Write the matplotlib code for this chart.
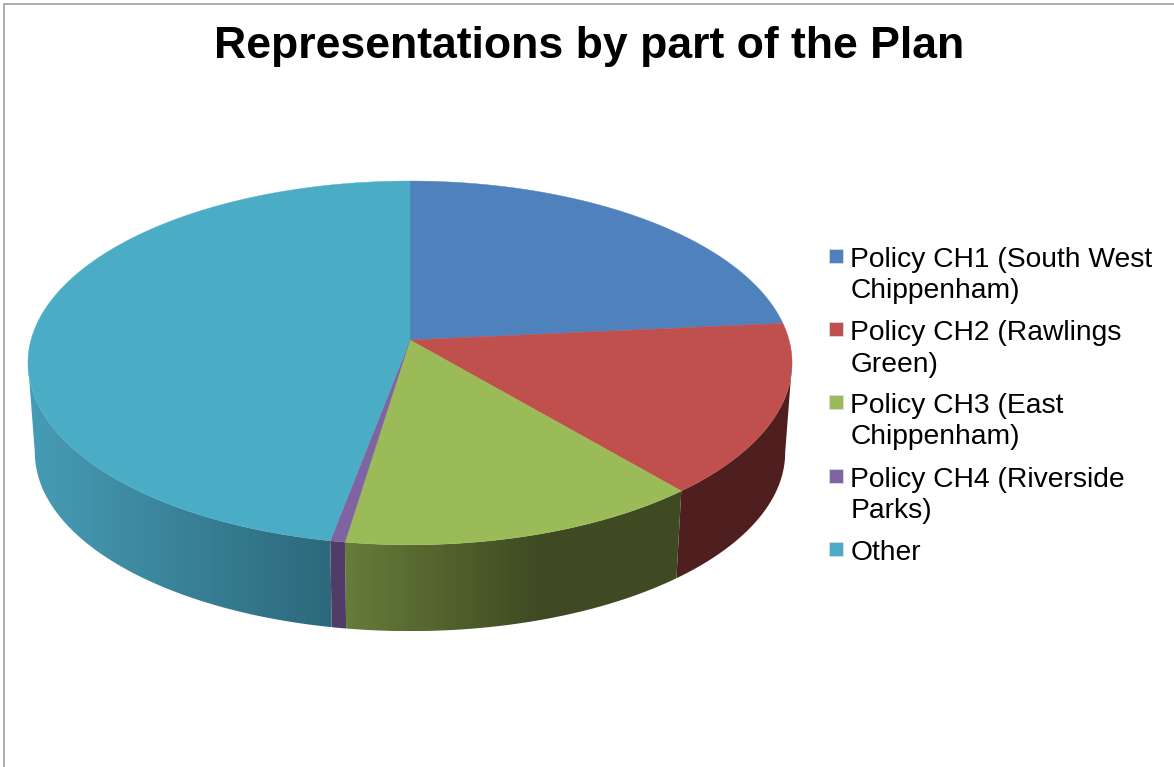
import matplotlib
matplotlib.use("Agg")
import matplotlib.pyplot as plt
import numpy as np
from matplotlib.colors import LinearSegmentedColormap
from matplotlib.patches import Polygon, Rectangle

plt.rcParams['font.family'] = ['Liberation Sans', 'DejaVu Sans']

title = "Representations by part of the Plan"
labels = ["Policy CH1 (South West\nChippenham)", "Policy CH2 (Rawlings\nGreen)",
          "Policy CH3 (East\nChippenham)", "Policy CH4 (Riverside\nParks)", "Other"]
shares = [23.5, 15.3, 13.6, 0.55, 47.05]
top_colors = ["#4f81bd", "#c0504d", "#9bbb59", "#8064a2", "#4bacc6"]
# left and right shade of the rim for each slice
side_colors = [("#2b4666", "#2b4666"), ("#4f1f1f", "#4f1f1f"),
               ("#657b39", "#3f4a22"), ("#503c66", "#503c66"),
               ("#469cb5", "#2d697c")]

W, H = 1174, 767
# perspective of the pie, in pixels
cx, top_y, bottom_y = 410, 340, 430
a, b, k = 379.0, 179.0, 0.126
bottom_scale = 0.982


def rim(deg, y0, scale=1.0):
    # deg runs clockwise from twelve o'clock
    t = np.radians(deg)
    u, v = np.sin(t), np.cos(t)
    d = 1 + k * v
    return cx + scale * a * u / d, y0 - scale * b * v / d


fig = plt.figure(figsize=(W / 100, H / 100), dpi=100, facecolor="white")
ax = fig.add_axes([0, 0, 1, 1])

edges = np.concatenate([[0], np.cumsum(shares)]) / np.sum(shares) * 360
front_a = np.degrees(np.arccos(-k))
front_b = 360 - front_a

# rim first, the top face goes over it
for i in range(len(shares)):
    s = max(edges[i], front_a)
    e = min(edges[i + 1], front_b)
    if e <= s:
        continue
    deg = np.linspace(s, e, 120)
    xt, yt = rim(deg, top_y)
    xb, yb = rim(deg, bottom_y, bottom_scale)
    pts = np.column_stack([np.r_[xt, xb[::-1]], np.r_[yt, yb[::-1]]])
    poly = Polygon(pts, closed=True, fc="none", ec="none")
    ax.add_patch(poly)
    left, right = pts[:, 0].min(), pts[:, 0].max()
    if i == 2:
        # green rim stops getting darker about two thirds of the way over
        stops = [(0, side_colors[i][0]), (0.58, side_colors[i][1]), (1, side_colors[i][1])]
    else:
        stops = [(0, side_colors[i][0]), (1, side_colors[i][1])]
    cmap = LinearSegmentedColormap.from_list("rim%d" % i, stops, N=48)
    im = ax.imshow(np.linspace(0, 1, 256)[None, :], cmap=cmap, aspect="auto",
                   extent=[left, right, pts[:, 1].max(), pts[:, 1].min()], zorder=2,
                   interpolation="nearest")
    im.set_clip_path(poly)

for i in range(len(shares)):
    deg = np.linspace(edges[i], edges[i + 1], 200)
    xt, yt = rim(deg, top_y)
    pts = np.column_stack([np.r_[cx, xt], np.r_[top_y, yt]])
    ax.add_patch(Polygon(pts, closed=True, fc=top_colors[i], ec=top_colors[i], lw=0.3, zorder=3))

ax.text(589.5, 58, title, fontsize=32.1, fontweight="bold", ha="center", va="baseline", color="black")

# legend, swatch sits on the first line of each entry
baselines = [267, 340, 413, 487, 560]
for i, label in enumerate(labels):
    ax.add_patch(Rectangle((828.5, baselines[i] - 18.5), 14.5, 14.5, fc=top_colors[i],
                           ec="#d8dde6", lw=0.6, zorder=3))
    for n, line in enumerate(label.split("\n")):
        ax.text(850.5, baselines[i] + n * 31.5, line, fontsize=20.3, ha="left", va="baseline", color="black")

# frame of the chart area only shows along the top and left
ax.plot([3.5, 3.5, W], [H, 3.5, 3.5], color="#a6a6a6", lw=1.3, solid_joinstyle="miter")

ax.set_xlim(0, W)
ax.set_ylim(H, 0)
ax.axis("off")

fig.savefig("out.png", dpi=100, facecolor="white")
plt.close("all")
